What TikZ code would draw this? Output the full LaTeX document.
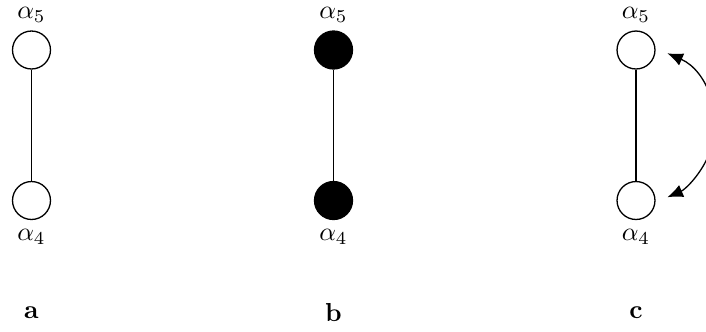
\documentclass[tikz,border=0pt]{standalone}
\usetikzlibrary{arrows.meta,calc}
\begin{document}
\begin{tikzpicture}[x=0.3846pt,y=0.3846pt,
  dot/.style={circle,draw,line width=0.5pt,minimum size=14.6pt,inner sep=0pt},
  wdot/.style={dot,fill=white},
  bdot/.style={dot,fill=black},
  lbl/.style={inner sep=0pt},
  edge/.style={line width=0.4pt},
  flip/.style={line width=0.5pt,{Latex[length=6pt,width=5pt]}-{Latex[length=6pt,width=5pt]}}]
\useasboundingbox (0,0) rectangle (706,331);
% a
\node[wdot] (a5) at (31.5,281) {};
\node[wdot] (a4) at (31.5,130.5) {};
\draw[edge] (a5) -- (a4);
\node[lbl] (la5) at (31.5,316) {$\alpha_5$};
\node[lbl] (la4) at (31.5,94) {$\alpha_4$};
\node[lbl] (ta) at (31.5,18) {\textbf{a}};
% b
\node[bdot] (b5) at (333.5,281) {};
\node[bdot] (b4) at (333.5,130.5) {};
\draw[edge] (b5) -- (b4);
\node[lbl] (lb5) at (333.5,316) {$\alpha_5$};
\node[lbl] (lb4) at (333.5,94) {$\alpha_4$};
\node[lbl] (tb) at (333.5,18) {\textbf{b}};
% c
\node[wdot] (c5) at (636,281) {};
\node[wdot] (c4) at (636,130.5) {};
\draw[edge] (c5) -- (c4);
\node[lbl] (lc5) at (636,316) {$\alpha_5$};
\node[lbl] (lc4) at (636,94) {$\alpha_4$};
\node[lbl] (tc) at (636,18) {\textbf{c}};
\coordinate (cm) at ($(c5)!0.5!(c4)$);
\coordinate (t5) at ($(cm)+(66.5:30.2pt)$);
\draw[flip] (t5) arc[start angle=66.5,end angle=-66.5,radius=30.2pt];
\end{tikzpicture}
\end{document}
